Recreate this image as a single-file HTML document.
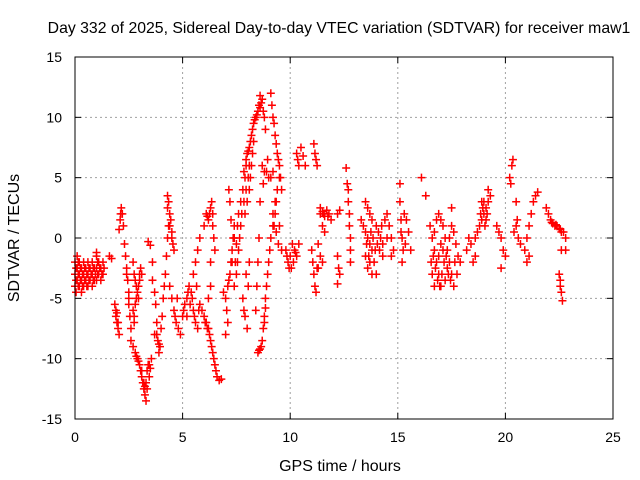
<!DOCTYPE html>
<html><head><meta charset="utf-8"><style>
body{margin:0;background:#fff;}
svg{display:block;font-family:"Liberation Sans",sans-serif;}
</style></head><body>
<svg id="chart" width="640" height="480">
<text x="339" y="33" text-anchor="middle" font-size="15.8">Day 332 of 2025, Sidereal Day-to-day VTEC variation (SDTVAR) for receiver maw1</text>
<g id="grid"></g>
<g id="marks"></g>
<rect x="75" y="57" width="538" height="362" fill="none" stroke="#000" stroke-width="1"/>
<g id="ticks"></g>
<text x="340" y="471" text-anchor="middle" font-size="16">GPS time / hours</text>
<text x="19" y="238" text-anchor="middle" font-size="16" transform="rotate(-90 19 238)">SDTVAR / TECUs</text>
</svg>
<script>
const xTicks=[0,5,10,15,20,25];
const yTicks=[-15,-10,-5,0,5,10,15];
const tracks=[
[[0,-2],[0,-3],[0,-4],[0.1,-1.5],[0.1,-2.5],[0.1,-3.5],[0.2,-2],[0.2,-3],[0.2,-4],[0.3,-2.5],[0.3,-3.5],[0.3,-4.5],[0.4,-2],[0.4,-3],[0.4,-4],[0.5,-2.5],[0.5,-3.5],[0.6,-2],[0.6,-3],[0.6,-4],[0.7,-2.5],[0.7,-3.5],[0.8,-2],[0.8,-3],[0.8,-4],[0.9,-2.5],[0.9,-3.5],[1.0,-1.5],[1.0,-2.5],[1.0,-3.5],[1.1,-2],[1.1,-3],[1.2,-2.5],[1.2,-3.5],[1.3,-2],[1.3,-3],[1.0,-1.2],[0.05,-4.5],[1.6,-1.5],[1.7,-1.7],
 [0.05,-2.5],[0.05,-3.5],[0.15,-2],[0.15,-3],[0.15,-4],[0.25,-2.5],[0.25,-3.5],[0.35,-3],[0.35,-4],[0.45,-2.5],[0.45,-3.5],[0.55,-3],[0.55,-4],[0.65,-2.5],[0.65,-3.5],[0.75,-3],[0.85,-2.5],[0.85,-3.5],[0.95,-3],[1.05,-2],[1.05,-3],[1.15,-2.5],[1.25,-3],[1.35,-2.5]],
[[1.85,-5.5],[1.9,-6],[1.9,-6.5],[1.95,-7],[2.0,-7.5],[2.05,-8],[1.95,-6.2],[2.0,-7]],
[[2.05,0.7],[2.1,1.5],[2.15,2.5],[2.2,2],[2.25,1],[2.3,-0.5],[2.35,-1.5],[2.4,-2.5],[2.45,-3.5],[2.5,-4.5],[2.5,-5.5],[2.55,-6.5],[2.6,-7.5],[2.6,-8.5],[2.12,2],[2.4,-3],[2.5,-5]],
[[2.7,-2],[2.75,-3],[2.8,-3.5],[2.85,-4],[2.9,-4.5],[2.95,-5],[3.0,-3.5],[3.05,-2.5],[3.1,-3],[2.8,-5.5],[2.7,-6],[2.75,-7],[2.85,-5],[2.95,-4],[3.0,-3],[2.75,-6.5]],
[[2.7,-9],[2.8,-9.5],[2.9,-10],[3.0,-10.5],[3.05,-11],[3.1,-11.5],[3.15,-12],[3.2,-12.5],[3.25,-13],[3.3,-13.5],[3.3,-12],[3.35,-11],[3.4,-10.5],[3.45,-11.5],[3.5,-10.8],[3.55,-10],[2.85,-9.8],[2.95,-10.2],[3.1,-11],[3.2,-12],[3.25,-12.3],[3.35,-12.5],[3.45,-10.5]],
[[3.4,-0.3],[3.5,-0.6],[3.6,-2],[3.6,-3.5],[3.7,-4.5],[3.75,-5.5],[3.8,-7],[3.85,-8.5],[3.9,-9.5],[3.7,-8],[3.95,-9],[4.0,-7.5],[4.05,-6.5],[3.8,-8],[3.9,-8.8]],
[[4.1,-5],[4.15,-4],[4.2,-3],[4.25,-1.5],[4.3,0],[4.35,1],[4.4,2],[4.45,1.5],[4.5,0.5],[4.55,-0.5],[4.6,-1],[4.3,3.5],[4.3,2.5],[4.35,3],[4.4,1],[4.5,0]],
[[4.4,-4],[4.5,-5],[4.6,-6],[4.7,-7],[4.8,-7.5],[4.9,-8],[5.0,-6.5],[5.1,-5.5],[5.2,-5],[5.3,-4],[5.4,-4.5],[5.5,-6],[5.6,-7],[5.7,-7.5],[5.8,-5.5],[5.5,-3],[5.6,-2],[5.7,-1],[5.8,0],[4.65,-6.5],[4.75,-5],[5.05,-6],[5.25,-4.5],[5.35,-5.5],[5.45,-5],[5.55,-6.5],[5.65,-4],[5.75,-6],[5.2,-6.5]],
[[5.9,-6],[6.0,-6.5],[6.1,-7],[6.2,-7.5],[6.3,-8.5],[6.4,-9.5],[6.5,-10.5],[6.6,-11.5],[6.7,-11.8],[6.8,-11.7],[6.2,-5],[6.3,-4],[6.0,1],[6.1,2],[6.2,1.5],[6.3,2.5],[6.35,3],[6.4,1],[6.45,0],[6.5,-1],[6.3,-2],[6.05,-7],[6.15,-7.5],[6.25,-8],[6.35,-9],[6.45,-10],[6.55,-11],[6.15,1.8],[6.25,2],[6.4,2]],
[[6.9,-4.5],[7.0,-5],[7.05,-6],[7.1,-4],[7.2,-3],[7.25,-2],[7.3,-1],[7.35,0],[7.4,1],[7.1,-7],[7.0,-8],[7.15,4],[7.2,3],[7.25,1.5],[7.15,-3.5],[7.3,-2],[7.4,0]],
[[7.45,-2],[7.5,-0.5],[7.55,1],[7.6,2],[7.7,3],[7.8,4],[7.9,5],[7.95,6],[8.0,7],[8.1,7.5],[8.2,8.5],[8.3,9.5],[8.4,10],[8.5,10.5],[8.55,11],[8.6,11.8],[8.7,11.5],[8.8,10],[8.85,9],[8.3,8],[8.2,6],[8.15,5],[8.1,4],[8.0,3],[7.9,2],[7.7,1],[7.6,-1],[7.5,-3],[7.4,-4],
 [7.85,5.5],[7.95,6.5],[8.05,7.2],[8.15,8],[8.25,9],[8.35,9.8],[8.45,10.2],[8.6,10.8],[8.65,11.2],[8.75,10.5],[8.25,7],[8.1,6],[8.05,5],[7.95,4],[7.85,3],[7.75,2],[7.65,0],[7.55,-2]],
[[7.8,-5],[7.85,-6],[7.9,-6.5],[8.0,-7.5],[7.95,-3],[8.05,-4],[8.1,-2]],
[[8.5,-9.5],[8.6,-9.2],[8.7,-8.5],[8.75,-7.5],[8.8,-6.5],[8.85,-5],[8.9,-4],[8.95,-3],[9.0,-2],[9.05,-1],[9.1,0],[9.2,1],[9.3,2],[9.35,3],[9.4,4],[9.5,5],[9.0,5],[8.9,5.5],[8.95,6.5],[8.7,6],[8.6,3],[8.55,0],[8.5,-2],[8.45,-4],[8.4,-6],[8.55,-9.3],[8.65,-9],[8.8,-7],[8.85,-5.8],[8.8,5.5],[8.75,4.5],[9.1,5],[9.2,5.5]],
[[9.1,12],[9.15,11],[9.2,10],[9.3,8.5],[9.4,7],[9.5,6],[9.55,5],[9.6,4],[9.3,3],[9.2,2],[9.25,1],[9.35,0.5],[9.45,-0.5],[9.6,-1],[9.5,1],[9.25,9.5],[9.35,7.8],[9.45,6.5]],
[[9.8,-1],[9.9,-2],[10.0,-1.5],[10.05,-2.5],[10.1,-0.5],[10.2,-1],[10.3,-1.5],[10.15,-2],[10.4,-0.5],[9.85,-1.5],[9.95,-2.5],[10.25,-1.2]],
[[10.3,7],[10.35,6.5],[10.4,6],[10.5,7.5],[10.6,6.8],[10.7,6]],
[[11.1,7.8],[11.15,7],[11.2,6.5],[11.25,6]],
[[11.0,-1],[11.05,-2],[11.1,-3],[11.15,-4],[11.2,-4.5],[11.25,-2.5]],
[[11.4,2],[11.5,2.2],[11.6,1.8],[11.7,2.3],[11.8,2],[11.9,1.5],[11.5,1],[11.6,0.5],[11.4,2.5],[12.2,2],[12.3,2.3],[11.55,2],[11.75,1.8]],
[[11.3,-0.5],[11.4,-1.5],[11.5,-2],[11.3,-2.5]],
[[12.2,-1.5],[12.25,-2.5],[12.3,-3],[12.2,-3.8]],
[[12.6,5.8],[12.65,4.5],[12.7,4],[12.7,3],[12.75,2],[12.75,1],[12.8,0],[12.8,-1],[12.8,-2]],
[[13.3,1.5],[13.4,1],[13.5,0.5],[13.6,0],[13.7,-0.5],[13.8,-1],[13.9,-2],[14.0,-3],[13.5,-1.5],[13.6,-2.5],[13.7,2],[13.8,1.5],[14.0,1],[14.1,0.5],[14.2,0],[14.3,-0.5],[14.3,-1.5],[14.4,1.5],[14.5,2],[14.5,0],[13.5,3],[13.6,2.5],
 [13.55,-0.5],[13.65,-1.5],[13.75,0.5],[13.85,0],[13.95,-1],[14.05,-0.5],[13.7,-2],[13.8,-3],[14.15,-1],[14.25,1]],
[[14.6,1],[14.7,0],[14.8,-1],[14.7,-1.5]],
[[15.1,4.5],[15.1,3],[15.15,1.5],[15.2,0],[15.25,-1],[15.2,-2],[15.3,2],[15.4,1.5],[15.5,0.5],[15.6,-1],[15.15,0.5],[15.35,-0.5]],
[[16.1,5],[16.3,3.5]],
[[16.5,1],[16.6,0],[16.7,-1],[16.8,-2],[16.9,-3],[17.0,-4],[16.6,-3],[16.7,-4],[16.8,1.5],[16.9,2],[17.0,1.5],[17.1,1],[17.2,0],[17.3,-1],[17.4,-2],[17.5,-3],[17.6,-4],[17.2,-3.5],[17.3,-2.5],[17.4,0],[17.5,1],[17.6,0.5],[17.7,-0.5],[17.8,-1.5],[17.9,-2],[17.5,2.5],[17.0,-0.5],[16.9,-1.5],
 [16.65,-1.5],[16.75,-2.5],[16.85,-3.5],[16.95,-4],[17.05,-3],[17.15,-2],[17.25,-1.5],[17.35,-3],[17.45,-3.5],[17.1,-1],[16.55,-2],[16.7,0.5],[17.65,-2],[17.75,-3]],
[[18.2,-1],[18.3,0],[18.4,-0.5],[18.5,-2],[18.6,-1.5]],
[[18.6,0],[18.7,0.5],[18.8,1],[18.9,1.5],[19.0,2],[19.1,2.5],[19.2,3],[19.3,3.5],[19.1,1.5],[19.2,4],[18.9,3],[18.95,2.5],[19.05,1],[19.15,2],[18.85,2],[19.0,3]],
[[19.6,1],[19.7,0.5],[19.8,0],[19.9,-1],[20.0,-1.5],[19.8,-2.5]],
[[20.2,5],[20.3,6],[20.35,6.5],[20.25,4.5],[20.5,3]],
[[20.4,0.5],[20.5,1],[20.6,0],[20.7,-0.5],[20.55,1.5]],
[[20.9,-1],[21.0,0],[21.1,1],[21.2,2],[21.3,3],[21.4,3.5],[21.5,3.8],[21.0,-2],[21.1,-1.5]],
[[21.9,2.5],[22.0,2],[22.1,1.5],[22.2,1.2],[22.3,1],[22.4,1],[22.5,0.8],[22.6,0.5],[22.7,0.5],[22.6,-1],[22.5,-3],[22.55,-4],[22.6,-4.5],[22.65,-5.2],[22.8,-1],[22.8,0],[22.15,1.3],[22.35,1.1],[22.55,0.7],[22.55,-3.5]]
];
const NS="http://www.w3.org/2000/svg";
const X0=75,X1=613,Y0=419,Y1=57;
function sx(h){return X0+(h-0)/(25-0)*(X1-X0);}
function sy(v){return Y0-(v+15)/30*(Y0-Y1);}
function mk(t,a){const e=document.createElementNS(NS,t);for(const k in a)e.setAttribute(k,a[k]);return e;}
const grid=document.getElementById('grid'),ticks=document.getElementById('ticks'),marks=document.getElementById('marks');
xTicks.forEach(t=>{
  const x=sx(t);
  if(t>0&&t<25){const g=mk('line',{x1:x,x2:x,y1:Y1,y2:Y0,stroke:'#a0a0a0','stroke-dasharray':'2,3'});
  
  grid.appendChild(g);}
  ticks.appendChild(mk('line',{x1:x,x2:x,y1:Y0,y2:Y0-6,stroke:'#000'}));
  ticks.appendChild(mk('line',{x1:x,x2:x,y1:Y1,y2:Y1+6,stroke:'#000'}));
  const l=mk('text',{x:x,y:442,'text-anchor':'middle','font-size':'14'});l.textContent=t;
  
  ticks.appendChild(l);
});
yTicks.forEach(t=>{
  const y=sy(t);
  if(t>-15&&t<15){const g=mk('line',{x1:X0,x2:X1,y1:y,y2:y,stroke:'#a0a0a0','stroke-dasharray':'2,3'});
  
  grid.appendChild(g);}
  ticks.appendChild(mk('line',{x1:X0,x2:X0+6,y1:y,y2:y,stroke:'#000'}));
  ticks.appendChild(mk('line',{x1:X1,x2:X1-6,y1:y,y2:y,stroke:'#000'}));
  const l=mk('text',{x:62,y:y+5,'text-anchor':'end','font-size':'14'});l.textContent=t;
  
  ticks.appendChild(l);
});
tracks.forEach(tr=>tr.forEach(p=>{
  const x=sx(p[0]),y=sy(p[1]);
  const m=mk('path',{d:`M${x-4},${y}H${x+4}M${x},${y-4}V${y+4}`,stroke:'#f00','stroke-width':'1.5',fill:'none'});
  
  
  marks.appendChild(m);
}));
</script>
</body></html>
